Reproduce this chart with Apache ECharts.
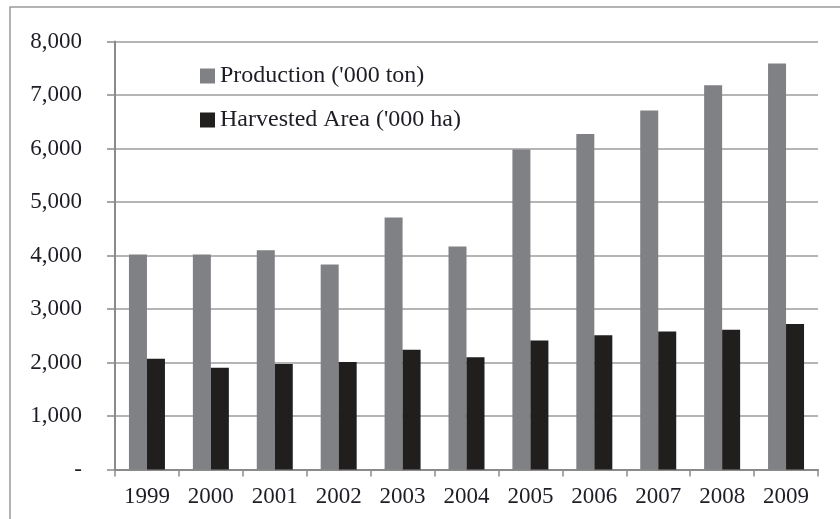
<!DOCTYPE html>
<html>
<head>
<meta charset="utf-8">
<script src="https://cdn.jsdelivr.net/npm/echarts@6/dist/echarts.min.js"></script>
<style>
  html, body { margin: 0; padding: 0; background: #fff; }
  #chart { width: 840px; height: 519px; }
</style>
</head>
<body>
<div id="chart"></div>
<script>
// data
var years = ['1999', '2000', '2001', '2002', '2003', '2004', '2005', '2006', '2007', '2008', '2009'];
var production = [4020, 4020, 4100, 3830, 4710, 4170, 5980, 6270, 6710, 7180, 7590];
var harvestedArea = [2070, 1900, 1970, 2010, 2240, 2100, 2410, 2510, 2580, 2610, 2720];
var yTickLabels = ['-', '1,000', '2,000', '3,000', '4,000', '5,000', '6,000', '7,000', '8,000'];

var chart = echarts.init(document.getElementById('chart'));
var serif = '"Liberation Serif", "DejaVu Serif", serif';

var option = {
    backgroundColor: '#fff',
    animation: false,
    textStyle: { fontFamily: serif },
    // outer frame of the figure, cut off on the right and bottom
    graphic: [{
        type: 'rect',
        shape: { x: 10, y: 7, width: 900, height: 600 },
        style: { fill: 'none', stroke: '#9a9a9a', lineWidth: 1.5 },
        z: 0
    }],
    legend: {
        orient: 'vertical',
        left: 195,
        top: 59,
        itemWidth: 15,
        itemHeight: 15,
        itemGap: 20,
        icon: 'rect',
        textStyle: { fontFamily: serif, fontSize: 24, color: '#1d1d26' },
        data: ["Production ('000 ton)", "Harvested Area ('000 ha)"]
    },
    grid: { left: 115, right: 22, top: 41.5, bottom: 49.5 },
    xAxis: {
        type: 'category',
        data: years,
        axisLine: { lineStyle: { color: '#8a8a8a', width: 2 } },
        axisTick: { show: true, length: 7, lineStyle: { color: '#8a8a8a', width: 1.5 } },
        axisLabel: { fontFamily: serif, fontSize: 23, color: '#1d1d26', margin: 16 }
    },
    yAxis: {
        type: 'value',
        min: 0,
        max: 8000,
        interval: 1000,
        axisLine: { show: true, lineStyle: { color: '#8a8a8a', width: 2 } },
        axisTick: { show: true, length: 8, lineStyle: { color: '#8a8a8a', width: 1.5 } },
        splitLine: { lineStyle: { color: '#9c9c9c', width: 1.5 } },
        axisLabel: {
            fontFamily: serif, fontSize: 23, color: '#1d1d26', margin: 33,
            formatter: function (v) { return yTickLabels[Math.round(v / 1000)]; }
        }
    },
    series: [
        {
            name: "Production ('000 ton)",
            type: 'bar',
            data: production,
            barWidth: 18,
            barGap: '0%',
            itemStyle: { color: '#808185' }
        },
        {
            name: "Harvested Area ('000 ha)",
            type: 'bar',
            data: harvestedArea,
            barWidth: 18,
            itemStyle: { color: '#201f1d' }
        }
    ]
};

chart.setOption(option);
</script>
</body>
</html>
